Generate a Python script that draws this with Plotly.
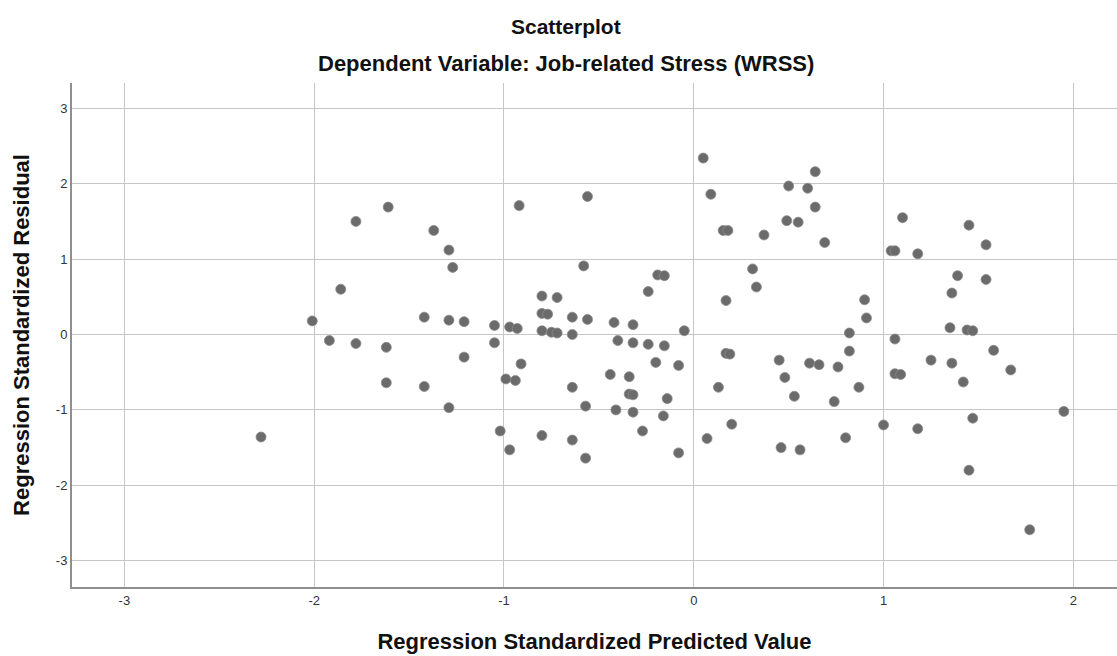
import plotly.graph_objects as go

# Regression Standardized Predicted Value (x) vs Regression Standardized Residual (y)
predicted = [
    -1.61, -1.78, -1.37, -1.29, -1.27, -1.86, -2.01, -1.42, -1.29, -1.21,
    -1.92, -1.78, -1.62, -1.21, -1.62, -1.42, -1.29, -2.28,
    -0.56, -0.92, -0.58, -0.19, -0.155, -0.24, -0.80, -0.72, -0.80, -0.77,
    -1.05, -0.97, -0.93, -0.80, -0.75, -0.72, -0.64, -0.56, -0.64, -0.42,
    -0.32, -1.05, -0.40, -0.32, -0.24, -0.155, -0.91, -0.20, -0.08, -0.99,
    -0.94, -0.44, -0.34, -0.64, -0.34, -0.32, -0.14, -0.57, -0.41, -0.32,
    -0.16, -1.02, -0.80, -0.64, -0.27, -0.97, -0.57, -0.08,
    0.05, 0.09, 0.50, 0.60, 0.64, 0.64, 0.49, 0.55, 0.155, 0.18,
    0.37, 0.69, 0.31, 0.33, 0.17, -0.05, 0.17, 0.19, 0.45, 0.61,
    0.66, 0.76, 0.82, 0.82, 0.90, 0.91, 0.48, 0.13, 0.53, 0.87,
    0.74, 0.20, 0.07, 0.46, 0.56, 0.80, 1.00,
    1.10, 1.45, 1.54, 1.04, 1.06, 1.18, 1.39, 1.54, 1.36, 1.35,
    1.44, 1.47, 1.06, 1.58, 1.25, 1.36, 1.67, 1.06, 1.09, 1.42,
    1.95, 1.47, 1.18, 1.45, 1.77,
]
residual = [
    1.69, 1.50, 1.38, 1.12, 0.89, 0.60, 0.18, 0.23, 0.19, 0.17,
    -0.08, -0.12, -0.17, -0.30, -0.64, -0.69, -0.97, -1.36,
    1.83, 1.71, 0.91, 0.79, 0.78, 0.57, 0.51, 0.49, 0.28, 0.27,
    0.12, 0.10, 0.08, 0.05, 0.03, 0.02, 0.23, 0.20, 0.00, 0.16,
    0.13, -0.11, -0.08, -0.11, -0.13, -0.15, -0.39, -0.37, -0.41, -0.59,
    -0.61, -0.53, -0.56, -0.70, -0.79, -0.80, -0.85, -0.95, -1.00, -1.03,
    -1.08, -1.28, -1.34, -1.40, -1.28, -1.53, -1.64, -1.57,
    2.34, 1.86, 1.97, 1.94, 2.16, 1.69, 1.51, 1.49, 1.38, 1.38,
    1.32, 1.22, 0.87, 0.63, 0.45, 0.05, -0.25, -0.26, -0.34, -0.38,
    -0.40, -0.43, 0.02, -0.22, 0.46, 0.22, -0.57, -0.70, -0.82, -0.70,
    -0.89, -1.19, -1.38, -1.50, -1.53, -1.37, -1.20,
    1.55, 1.45, 1.19, 1.11, 1.11, 1.07, 0.78, 0.73, 0.55, 0.09,
    0.06, 0.05, -0.06, -0.21, -0.34, -0.38, -0.47, -0.52, -0.53, -0.63,
    -1.02, -1.11, -1.25, -1.80, -2.59,
]

tick_values = [-3, -2, -1, 0, 1, 2, 3]
x_ticks = [-3, -2, -1, 0, 1, 2]

FONT = "Liberation Sans, Arial, sans-serif"

fig = go.Figure(
    go.Scatter(
        x=predicted,
        y=residual,
        mode="markers",
        marker=dict(size=10, color="#6b6b6b", line=dict(width=0.8, color="#8c8c8c")),
        hoverinfo="x+y",
    )
)

axis_common = dict(
    showgrid=True,
    gridcolor="#c6c6c6",
    gridwidth=1,
    zeroline=False,
    showline=True,
    linecolor="#8f8f8f",
    linewidth=2,
    ticks="",
    tickfont=dict(family=FONT, size=13, color="#333333"),
)

fig.update_layout(
    width=1117,
    height=656,
    margin=dict(l=72, r=0, t=83, b=69),
    paper_bgcolor="white",
    plot_bgcolor="white",
    showlegend=False,
    font=dict(family=FONT),
    xaxis=dict(
        range=[-3.276, 2.230],
        tickvals=x_ticks,
        ticktext=[str(v) for v in x_ticks],
        title=dict(
            text="Regression Standardized Predicted Value",
            font=dict(family=FONT, size=22, color="#111111", weight="bold"),
            standoff=27,
        ),
        **axis_common,
    ),
    yaxis=dict(
        range=[-3.349, 3.336],
        tickvals=tick_values,
        ticktext=[str(v) for v in tick_values],
        title=dict(
            text="Regression Standardized Residual",
            font=dict(family=FONT, size=22, color="#111111", weight="bold"),
            standoff=20,
        ),
        **axis_common,
    ),
    annotations=[
        dict(
            text="Scatterplot",
            xref="paper", yref="paper",
            x=0.4727, y=1 + (83 - 27) / 504,
            xanchor="center", yanchor="middle", showarrow=False,
            font=dict(family=FONT, size=21, color="#111111", weight="bold"),
        ),
        dict(
            text="Dependent Variable: Job-related Stress (WRSS)",
            xref="paper", yref="paper",
            x=0.4727, y=1 + (83 - 64) / 504,
            xanchor="center", yanchor="middle", showarrow=False,
            font=dict(family=FONT, size=22, color="#111111", weight="bold"),
        ),
    ],
)

fig.write_html("out.html")
